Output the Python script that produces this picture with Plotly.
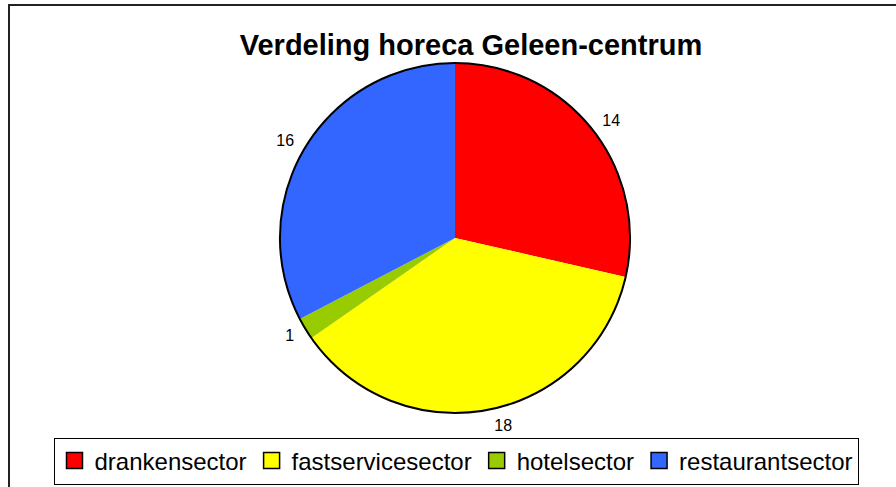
import plotly.graph_objects as go

categories = ["drankensector", "fastservicesector", "hotelsector", "restaurantsector"]
values = [14, 18, 1, 16]
colors = ["#FF0000", "#FFFF00", "#99CC00", "#3366FF"]
title_text = "Verdeling horeca Geleen-centrum"

W, H = 896, 487
FONT = "Liberation Sans, Arial, sans-serif"

cx, cy, r = 455, 238, 175
r_lab = 183


def dom(rad):
    return dict(x=[(cx - rad) / W, (cx + rad) / W], y=[1 - (cy + rad) / H, 1 - (cy - rad) / H])


fig = go.Figure()
# coloured slices
fig.add_trace(go.Pie(
    labels=categories, values=values, sort=False, direction="clockwise", rotation=0,
    marker=dict(colors=colors, line=dict(width=0)),
    textinfo="none", domain=dom(r), showlegend=False, hoverinfo="label+value",
))
# outer outline of the pie
fig.add_trace(go.Pie(
    labels=["outline"], values=[1], sort=False,
    marker=dict(colors=["rgba(0,0,0,0)"], line=dict(width=2, color="#000000")),
    textinfo="none", domain=dom(r), showlegend=False, hoverinfo="skip",
))
# value labels, placed a little outside the pie
fig.add_trace(go.Pie(
    labels=categories, values=values, sort=False, direction="clockwise", rotation=0,
    marker=dict(colors=["rgba(0,0,0,0)"] * len(values), line=dict(width=0)),
    textinfo="value", textposition="outside",
    textfont=dict(family=FONT, size=16, color="#000000"),
    domain=dom(r_lab), showlegend=False, hoverinfo="skip",
))
# legend entries
for cat, col in zip(categories, colors):
    fig.add_trace(go.Scatter(
        x=[None], y=[None], mode="markers", name=cat,
        marker=dict(symbol="square", size=17, color=col, line=dict(width=1.5, color="#000000")),
    ))

fig.update_layout(
    width=W, height=H,
    margin=dict(l=0, r=0, t=0, b=0),
    paper_bgcolor="white", plot_bgcolor="white",
    font=dict(family=FONT, color="#000000"),
    title=dict(text="<b>" + title_text + "</b>", x=471 / W, xanchor="center",
               y=1 - 45 / H, yanchor="middle", font=dict(size=29, family=FONT, color="#000000")),
    xaxis=dict(visible=False), yaxis=dict(visible=False),
    legend=dict(orientation="h", x=456 / W, xanchor="center", y=1 - 461 / H, yanchor="middle",
                bordercolor="#000000", borderwidth=1, bgcolor="white",
                font=dict(size=24, family=FONT, color="#000000"),
                itemsizing="trace", tracegroupgap=0),
    shapes=[dict(type="rect", xref="paper", yref="paper",
                 x0=9 / W, x1=1.02, y0=-0.05, y1=1 - 5 / H,
                 line=dict(color="#222222", width=2), layer="below")],
)

fig.write_html("out.html", config={"displayModeBar": False},
               post_script="document.body.style.margin='0';")
